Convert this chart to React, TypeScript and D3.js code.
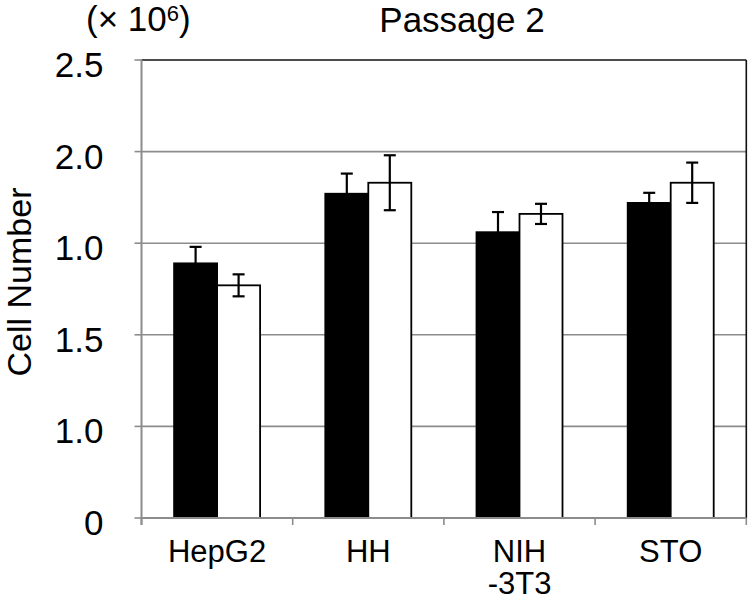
import React from "react";
import * as d3 from "d3";

const categories = ["HepG2", "HH", "NIH\n-3T3", "STO"];
const blackValues = [1.39, 1.77, 1.56, 1.72];
const blackErrors = [0.09, 0.11, 0.11, 0.055];
const whiteValues = [1.27, 1.83, 1.66, 1.83];
const whiteErrors = [0.06, 0.15, 0.055, 0.11];
const tickValues = [0, 0.5, 1.0, 1.5, 2.0, 2.5];
const tickLabels = ["0", "1.0", "1.5", "1.0", "2.0", "2.5"];

const W = 749;
const H = 601;
const left = 141.5;
const right = 746.3;
const top = 60;
const bottom = 518;
const FONT = "'Liberation Sans', Arial, sans-serif";

export default function App() {
  const x = d3.scaleBand<string>().domain(categories).range([left, right]).padding(0);
  const y = d3.scaleLinear().domain([0, 2.5]).range([bottom, top]);
  const barW = 43;
  const cap = 6;
  const grid = "#8c8c8c";

  const series = [
    { vals: blackValues, errs: blackErrors, fill: "#000", off: -barW },
    { vals: whiteValues, errs: whiteErrors, fill: "#fff", off: 0 },
  ];

  return (
    <svg width={W} height={H} style={{ position: "absolute", left: 0, top: 0, background: "#fff" }}>
      <rect x={0} y={0} width={W} height={H} fill="#fff" />
      {tickValues.slice(1, -1).map((t) => (
        <line key={"g" + t} x1={left} x2={right} y1={y(t)} y2={y(t)} stroke={grid} strokeWidth={1.6} />
      ))}
      <line x1={left} x2={right} y1={y(2.5)} y2={y(2.5)} stroke="#111" strokeWidth={1.6} />
      <line x1={right} x2={right} y1={top} y2={bottom} stroke="#111" strokeWidth={1.6} />
      {series.map((s, si) =>
        categories.map((c, i) => {
          const cx = (x(c) as number) + x.bandwidth() / 2;
          return (
            <rect
              key={"b" + si + i}
              x={cx + s.off}
              y={y(s.vals[i])}
              width={barW}
              height={bottom - y(s.vals[i])}
              fill={s.fill}
              stroke="#000"
              strokeWidth={1.8}
            />
          );
        })
      )}
      {series.map((s, si) =>
        categories.map((c, i) => {
          const cx = (x(c) as number) + x.bandwidth() / 2 + s.off + barW / 2;
          const y1 = y(s.vals[i] + s.errs[i]);
          const y2 = y(s.vals[i] - s.errs[i]);
          return (
            <g key={"e" + si + i} stroke="#000" strokeWidth={2.2}>
              <line x1={cx} x2={cx} y1={y1} y2={y2} />
              <line x1={cx - cap} x2={cx + cap} y1={y1} y2={y1} />
              <line x1={cx - cap} x2={cx + cap} y1={y2} y2={y2} />
            </g>
          );
        })
      )}
      <line x1={left} x2={left} y1={top} y2={bottom + 7} stroke={grid} strokeWidth={2} />
      <line x1={left} x2={right} y1={bottom} y2={bottom} stroke={grid} strokeWidth={2} />
      {tickValues.map((t, i) => (
        <g key={"t" + t}>
          <line x1={left - 7} x2={left} y1={y(t)} y2={y(t)} stroke={grid} strokeWidth={1.6} />
          <text x={103.5} y={y(t) + 17} textAnchor="end" fontFamily={FONT} fontSize={35} fill="#000">
            {tickLabels[i]}
          </text>
        </g>
      ))}
      {[...categories.map((c) => x(c) as number), right].map((v, i) => (
        <line key={"xt" + i} x1={v} x2={v} y1={bottom} y2={bottom + 7} stroke={grid} strokeWidth={1.6} />
      ))}
      {categories.map((c) => {
        const cx = (x(c) as number) + x.bandwidth() / 2;
        const lines = c.split("\n");
        return (
          <text key={"xl" + c} x={cx} y={562} textAnchor="middle" fontFamily={FONT} fontSize={31} fill="#000">
            {lines.map((l, j) => (
              <tspan key={j} x={cx} dy={j === 0 ? 0 : 32}>
                {l}
              </tspan>
            ))}
          </text>
        );
      })}
      <text
        transform={`translate(31,282) rotate(-90)`}
        textAnchor="middle"
        fontFamily={FONT}
        fontSize={34}
        fill="#000"
      >
        Cell Number
      </text>
      <text x={86} y={31} fontFamily={FONT} fontSize={35} fill="#000">
        (× 10<tspan fontSize={22} dy={-10}>6</tspan>
        <tspan dy={10}>)</tspan>
      </text>
      <text x={462} y={32} textAnchor="middle" fontFamily={FONT} fontSize={35} fill="#000">
        Passage 2
      </text>
    </svg>
  );
}
